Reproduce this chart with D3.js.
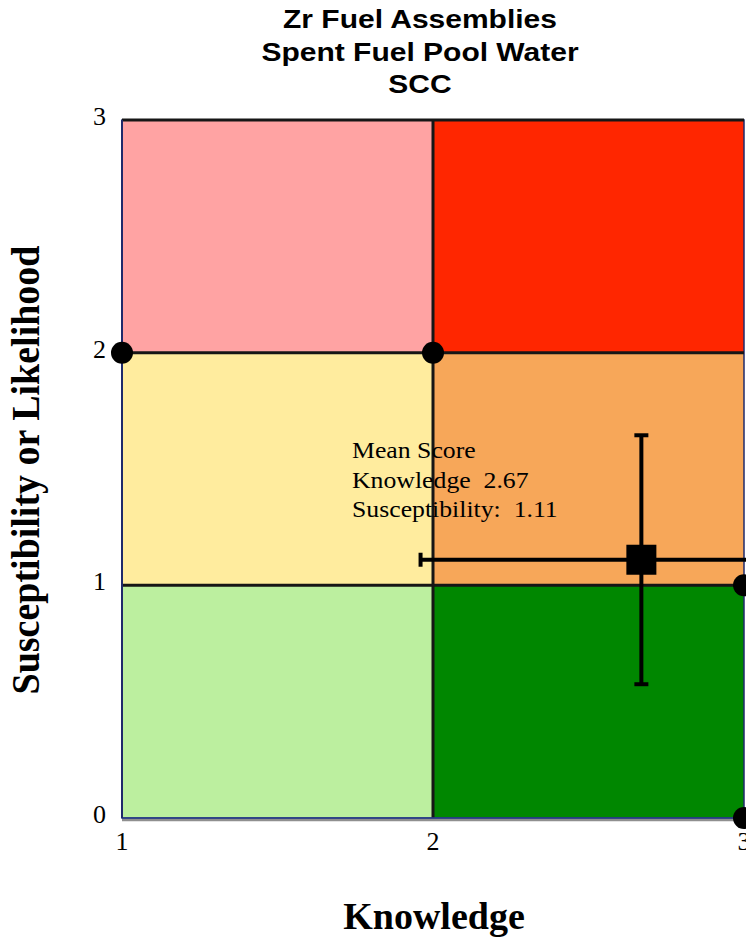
<!DOCTYPE html>
<html>
<head>
<meta charset="utf-8">
<script src="https://cdn.jsdelivr.net/npm/d3@7"></script>
<style>
  html, body { margin: 0; padding: 0; background: #fff; }
  svg { display: block; }
</style>
</head>
<body>
<svg id="chart" width="746" height="938"></svg>
<script>
// Risk matrix: knowledge (x) vs susceptibility (y)
const titleLines = ["Zr Fuel Assemblies", "Spent Fuel Pool Water", "SCC"];
const xTicks = [1, 2, 3];
const yTicks = [0, 1, 2, 3];

// Zone cells: [x0, x1, y0, y1, fill]
const zones = [
  { x0: 1, x1: 2, y0: 2, y1: 3, fill: "#FFA3A3" },
  { x0: 2, x1: 3, y0: 2, y1: 3, fill: "#FF2600" },
  { x0: 1, x1: 2, y0: 1, y1: 2, fill: "#FFEC9E" },
  { x0: 2, x1: 3, y0: 1, y1: 2, fill: "#F7A759" },
  { x0: 1, x1: 2, y0: 0, y1: 1, fill: "#BCEF9F" },
  { x0: 2, x1: 3, y0: 0, y1: 1, fill: "#008700" }
];

// Boundary marker points
const cornerX = [1, 2, 3, 3];
const cornerY = [2, 2, 1, 0];

// Mean score and its spread
const meanKnowledge = 2.67;
const meanSusceptibility = 1.11;
const knowledgeRange = [1.96, 3.38];
const susceptibilityRange = [0.575, 1.645];

const svg = d3.select("#chart");
const x = d3.scaleLinear().domain([1, 3]).range([122, 744]);
const y = d3.scaleLinear().domain([0, 3]).range([818, 120]);

const defs = svg.append("defs");
const f = defs.append("filter").attr("id", "soft").attr("x", "-20%").attr("y", "-20%").attr("width", "140%").attr("height", "140%");
f.append("feGaussianBlur").attr("stdDeviation", 1.6);

const sans = "Liberation Sans, Arial, sans-serif";
const serif = "Liberation Serif, Times New Roman, serif";

// Title (wide bold sans)
svg.append("g").selectAll("text").data(titleLines).join("text")
  .attr("transform", (d, i) => `translate(420,${28 + i * 32.5}) scale(1.2,1)`)
  .attr("text-anchor", "middle")
  .attr("font-family", sans)
  .attr("font-weight", "bold").attr("font-size", 25)
  .text(d => d);

// Zones
svg.append("g").selectAll("rect").data(zones).join("rect")
  .attr("x", d => x(d.x0)).attr("y", d => y(d.y1))
  .attr("width", d => x(d.x1) - x(d.x0)).attr("height", d => y(d.y0) - y(d.y1))
  .attr("fill", d => d.fill);

// Outer frame
svg.append("rect")
  .attr("x", x(1)).attr("y", y(3))
  .attr("width", x(3) - x(1)).attr("height", y(0) - y(3))
  .attr("fill", "none").attr("stroke", "#1f2a6b").attr("stroke-width", 1.5);

// Internal boundaries with a soft halo
const gridLines = [
  { x1: x(2), x2: x(2), y1: y(3), y2: y(0) },
  { x1: x(1), x2: x(3), y1: y(2), y2: y(2) },
  { x1: x(1), x2: x(3), y1: y(1), y2: y(1) },
  { x1: x(1), x2: x(3), y1: y(3), y2: y(3) }
];
const gl = svg.append("g");
gl.selectAll("line.halo").data(gridLines).join("line").attr("class", "halo")
  .attr("x1", d => d.x1).attr("x2", d => d.x2).attr("y1", d => d.y1).attr("y2", d => d.y2)
  .attr("stroke", "#000").attr("stroke-opacity", 0.5).attr("stroke-width", 6)
  .attr("filter", "url(#soft)");
gl.selectAll("line.core").data(gridLines).join("line").attr("class", "core")
  .attr("x1", d => d.x1).attr("x2", d => d.x2).attr("y1", d => d.y1).attr("y2", d => d.y2)
  .attr("stroke", "#161616").attr("stroke-width", 3);

// Bottom and left edges
svg.append("line").attr("x1", x(1)).attr("x2", x(3)).attr("y1", y(0) + 2).attr("y2", y(0) + 2)
  .attr("stroke", "#444").attr("stroke-opacity", 0.6).attr("stroke-width", 2.5);
svg.append("line").attr("x1", x(1)).attr("x2", x(3)).attr("y1", y(0)).attr("y2", y(0))
  .attr("stroke", "#2a3f8a").attr("stroke-width", 1.5);
svg.append("line").attr("x1", x(1)).attr("x2", x(1)).attr("y1", y(3)).attr("y2", y(0))
  .attr("stroke", "#1f2a6b").attr("stroke-width", 2);

// Axes tick labels
svg.append("g").selectAll("text").data(yTicks).join("text")
  .attr("x", 106).attr("y", d => y(d) + 5)
  .attr("text-anchor", "end")
  .attr("font-family", serif).attr("font-size", 26)
  .text(d => d);
svg.append("g").selectAll("text").data(xTicks).join("text")
  .attr("x", d => x(d)).attr("y", 850)
  .attr("text-anchor", "middle")
  .attr("font-family", serif).attr("font-size", 26)
  .text(d => d);

// Axis titles
svg.append("text")
  .attr("x", 434).attr("y", 929)
  .attr("text-anchor", "middle")
  .attr("font-family", serif).attr("font-weight", "bold").attr("font-size", 38)
  .text("Knowledge");
svg.append("text")
  .attr("transform", "translate(39,470) rotate(-90) scale(0.95,1)")
  .attr("text-anchor", "middle")
  .attr("font-family", serif).attr("font-weight", "bold").attr("font-size", 40)
  .text("Susceptibility or Likelihood");

// Corner markers
svg.append("g").selectAll("circle").data(cornerX.map((cx, i) => [cx, cornerY[i]])).join("circle")
  .attr("cx", d => x(d[0])).attr("cy", d => y(d[1])).attr("r", 11)
  .attr("fill", "#000");

// Error bars
const eb = svg.append("g").attr("stroke", "#000").attr("stroke-width", 4);
eb.append("line")
  .attr("x1", x(knowledgeRange[0])).attr("x2", x(knowledgeRange[1]))
  .attr("y1", y(meanSusceptibility)).attr("y2", y(meanSusceptibility));
eb.append("line")
  .attr("x1", x(knowledgeRange[0])).attr("x2", x(knowledgeRange[0]))
  .attr("y1", y(meanSusceptibility) - 7).attr("y2", y(meanSusceptibility) + 7);
eb.append("line")
  .attr("x1", x(meanKnowledge)).attr("x2", x(meanKnowledge))
  .attr("y1", y(susceptibilityRange[0])).attr("y2", y(susceptibilityRange[1]));
eb.selectAll("line.cap").data(susceptibilityRange).join("line").attr("class", "cap")
  .attr("x1", x(meanKnowledge) - 7).attr("x2", x(meanKnowledge) + 7)
  .attr("y1", d => y(d)).attr("y2", d => y(d));

// Mean marker
svg.append("rect")
  .attr("x", x(meanKnowledge) - 15).attr("y", y(meanSusceptibility) - 15)
  .attr("width", 30).attr("height", 30)
  .attr("fill", "#000");

// Annotation
const noteLines = ["Mean Score", "Knowledge  " + meanKnowledge.toFixed(2), "Susceptibility:  " + meanSusceptibility.toFixed(2)];
svg.append("g").selectAll("text").data(noteLines).join("text")
  .attr("transform", (d, i) => `translate(352,${458 + i * 29.5}) scale(1.12,1)`)
  .attr("font-family", serif).attr("font-size", 23)
  .attr("xml:space", "preserve").style("white-space", "pre")
  .text(d => d);
</script>
</body>
</html>
